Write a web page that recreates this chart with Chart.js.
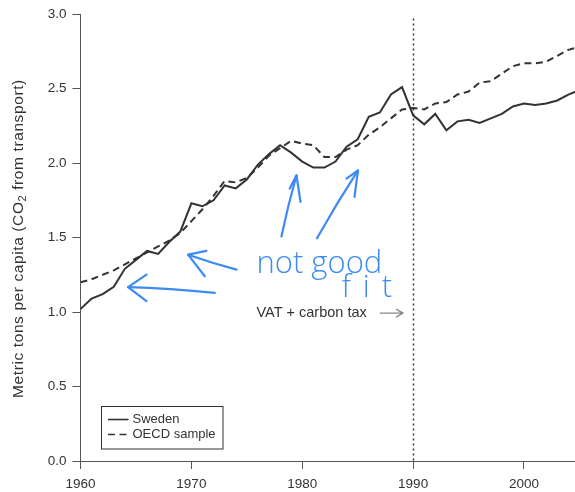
<!DOCTYPE html>
<html>
<head>
<meta charset="utf-8">
<script src="https://cdn.jsdelivr.net/npm/chart.js@4.4.1/dist/chart.umd.min.js"></script>
<style>
  html, body { margin: 0; padding: 0; background: #fff; }
  #wrap { width: 575px; height: 492px; }
</style>
</head>
<body>
<div id="wrap"><canvas id="c" width="575" height="492"></canvas></div>
<script>
// Transport CO2 emissions per capita, metric tons
const years = [1960,1961,1962,1963,1964,1965,1966,1967,1968,1969,
               1970,1971,1972,1973,1974,1975,1976,1977,1978,1979,
               1980,1981,1982,1983,1984,1985,1986,1987,1988,1989,
               1990,1991,1992,1993,1994,1995,1996,1997,1998,1999,
               2000,2001,2002,2003,2004,2005];
const sweden = [1.02,1.09,1.12,1.17,1.29,1.35,1.41,1.39,1.47,1.54,
                1.73,1.71,1.75,1.85,1.83,1.89,1.99,2.06,2.12,2.07,
                2.01,1.97,1.97,2.01,2.11,2.16,2.31,2.34,2.46,2.51,
                2.32,2.26,2.33,2.22,2.28,2.29,2.27,2.30,2.33,2.38,
                2.40,2.39,2.40,2.42,2.46,2.49];
const oecd = [1.20,1.22,1.25,1.28,1.32,1.36,1.40,1.44,1.48,1.53,
              1.61,1.69,1.78,1.88,1.87,1.90,1.97,2.05,2.10,2.15,
              2.13,2.12,2.04,2.04,2.09,2.12,2.19,2.24,2.30,2.36,
              2.37,2.36,2.40,2.41,2.46,2.48,2.54,2.55,2.60,2.65,
              2.67,2.67,2.68,2.72,2.76,2.78];
const seriesNames = ['Sweden', 'OECD sample'];
const xTickValues = [1960, 1970, 1980, 1990, 2000];
const yTickValues = [0, 0.5, 1.0, 1.5, 2.0, 2.5, 3.0];
const policyYear = 1990;
const policyLabel = 'VAT + carbon tax';
const yTitleParts = ['Metric tons per capita (CO', '2', ' from transport)'];
const noteLines = ['not good', 'fit'];

const INK = '#333333';
const AXIS = '#555555';
const PEN = '#3d8bf2';
const FONT = "'Liberation Sans', Arial, Helvetica, sans-serif";

// Hand-drawn pen marks, in (year, value) units
const penStrokes = [
  { shaft: [[1972.11,1.129],[1968.05,1.158],[1964.29,1.167]],
    head:  [[1965.95,1.251],[1964.29,1.167],[1965.95,1.073]] },
  { shaft: [[1974.07,1.285],[1971.96,1.327],[1969.70,1.385]],
    head:  [[1971.36,1.411],[1969.70,1.385],[1971.21,1.240]] },
  { shaft: [[1978.12,1.507],[1978.72,1.718],[1979.48,1.918]],
    head:  [[1978.87,1.829],[1979.48,1.918],[1979.84,1.740]] },
  { shaft: [[1981.33,1.495],[1983.10,1.730],[1985.03,1.951]],
    head:  [[1983.99,1.895],[1985.03,1.951],[1984.71,1.773]] }
];
const notePos = [[1975.87, 1.26], [1983.53, 1.10]];
const policyLabelPos = [1975.87, 0.993];
const policyArrow = [[1986.99, 0.993], [1989.09, 0.993]];

const overlay = {
  id: 'overlay',
  beforeDatasetsDraw(chart) {
    const { ctx, scales: { x, y } } = chart;
    ctx.save();
    ctx.strokeStyle = INK;
    ctx.lineWidth = 1.5;
    ctx.setLineDash([2, 3]);
    const px = Math.round(x.getPixelForValue(policyYear)) + 0.5;
    ctx.beginPath();
    ctx.moveTo(px, y.getPixelForValue(2.97));
    ctx.lineTo(px, y.getPixelForValue(0));
    ctx.stroke();
    ctx.restore();
  },
  afterDraw(chart) {
    const { ctx, chartArea: a, scales: { x, y } } = chart;
    const P = (p) => [x.getPixelForValue(p[0]), y.getPixelForValue(p[1])];

    // y axis title with subscript
    ctx.save();
    ctx.fillStyle = INK;
    ctx.translate(19, (a.top + a.bottom) / 2 + 1);
    ctx.rotate(-Math.PI / 2);
    ctx.textBaseline = 'middle';
    ctx.letterSpacing = '0.6px';
    const big = `15.5px ${FONT}`, small = `11px ${FONT}`;
    ctx.font = big;
    const w0 = ctx.measureText(yTitleParts[0]).width;
    const w2 = ctx.measureText(yTitleParts[2]).width;
    ctx.font = small;
    const w1 = ctx.measureText(yTitleParts[1]).width;
    let cx = -(w0 + w1 + w2) / 2;
    ctx.font = big;
    ctx.fillText(yTitleParts[0], cx, 0);
    cx += w0;
    ctx.font = small;
    ctx.fillText(yTitleParts[1], cx, 4);
    cx += w1;
    ctx.font = big;
    ctx.fillText(yTitleParts[2], cx, 0);
    ctx.restore();

    // legend box
    ctx.save();
    const lx = a.left + 20, ly = a.bottom - 55, lw = 121.5, lh = 42.5;
    ctx.strokeStyle = INK;
    ctx.lineWidth = 1;
    ctx.strokeRect(Math.round(lx) + 0.5, Math.round(ly) + 0.5, lw, lh);
    ctx.font = `13px ${FONT}`;
    ctx.textBaseline = 'middle';
    ctx.fillStyle = INK;
    chart.data.datasets.forEach((ds, i) => {
      const rowY = ly + 13.5 + i * 15;
      ctx.strokeStyle = ds.borderColor;
      ctx.lineWidth = 1.6;
      ctx.setLineDash(ds.borderDash || []);
      ctx.beginPath();
      ctx.moveTo(lx + 7.5, rowY);
      ctx.lineTo(lx + 28, rowY);
      ctx.stroke();
      ctx.fillText(ds.label, lx + 32, rowY);
    });
    ctx.restore();

    // policy label and arrow
    ctx.save();
    ctx.fillStyle = INK;
    ctx.font = `14.5px ${FONT}`;
    ctx.textBaseline = 'middle';
    const lp = P(policyLabelPos);
    ctx.fillText(policyLabel, lp[0], lp[1]);
    const a0 = P(policyArrow[0]), a1 = P(policyArrow[1]);
    ctx.strokeStyle = '#888';
    ctx.lineWidth = 1.3;
    ctx.beginPath();
    ctx.moveTo(a0[0], a0[1]);
    ctx.lineTo(a1[0], a1[1]);
    ctx.moveTo(a1[0] - 7, a1[1] - 4);
    ctx.lineTo(a1[0], a1[1]);
    ctx.lineTo(a1[0] - 7, a1[1] + 4);
    ctx.stroke();
    ctx.restore();

    // pen marks
    ctx.save();
    ctx.strokeStyle = PEN;
    ctx.fillStyle = PEN;
    ctx.lineWidth = 2.2;
    ctx.lineCap = 'round';
    ctx.lineJoin = 'round';
    penStrokes.forEach(s => {
      const sh = s.shaft.map(P);
      ctx.beginPath();
      ctx.moveTo(sh[0][0], sh[0][1]);
      ctx.quadraticCurveTo(sh[1][0], sh[1][1], sh[2][0], sh[2][1]);
      ctx.stroke();
      const hd = s.head.map(P);
      ctx.beginPath();
      ctx.moveTo(hd[0][0], hd[0][1]);
      ctx.lineTo(hd[1][0], hd[1][1]);
      ctx.lineTo(hd[2][0], hd[2][1]);
      ctx.stroke();
    });
    ctx.textBaseline = 'alphabetic';
    ctx.font = `300 31px 'Open Sans', 'DejaVu Sans', sans-serif`;
    const n0 = P(notePos[0]);
    ctx.fillText(noteLines[0], n0[0], n0[1]);
    const n1 = P(notePos[1]);
    ctx.letterSpacing = '12px';
    ctx.fillText(noteLines[1], n1[0], n1[1]);
    ctx.restore();
  }
};

const setTicks = (values) => (scale) => {
  scale.ticks = values.map(v => ({ value: v }));
};

new Chart(document.getElementById('c'), {
  type: 'line',
  data: {
    datasets: [
      { label: seriesNames[0],
        data: years.map((yr, i) => ({ x: yr, y: sweden[i] })),
        borderColor: INK, borderWidth: 2, pointRadius: 0, tension: 0 },
      { label: seriesNames[1],
        data: years.map((yr, i) => ({ x: yr, y: oecd[i] })),
        borderColor: INK, borderWidth: 2, borderDash: [7, 4.5], pointRadius: 0, tension: 0 }
    ]
  },
  options: {
    responsive: false,
    animation: false,
    devicePixelRatio: 1,
    layout: { padding: { top: 11, right: 0, left: 0, bottom: 0 } },
    plugins: { legend: { display: false }, tooltip: { enabled: false } },
    scales: {
      x: {
        type: 'linear', min: 1960, max: 2004.6,
        afterBuildTicks: setTicks(xTickValues),
        afterFit: (s) => { s.height = 31; },
        grid: { drawOnChartArea: false, tickLength: 8, color: AXIS, lineWidth: 1 },
        border: { color: AXIS, width: 1 },
        ticks: { color: INK, padding: 7, maxRotation: 0, autoSkip: false,
                 font: { family: FONT, size: 13.5 },
                 callback: (v) => String(v) }
      },
      y: {
        type: 'linear', min: 0, max: 3,
        afterBuildTicks: setTicks(yTickValues),
        afterFit: (s) => { s.width = 80.5; },
        grid: { drawOnChartArea: false, tickLength: 8, color: AXIS, lineWidth: 1 },
        border: { color: AXIS, width: 1 },
        ticks: { color: INK, padding: 6, autoSkip: false,
                 font: { family: FONT, size: 13.5 },
                 callback: (v) => v.toFixed(1) }
      }
    }
  },
  plugins: [overlay]
});
</script>
</body>
</html>
